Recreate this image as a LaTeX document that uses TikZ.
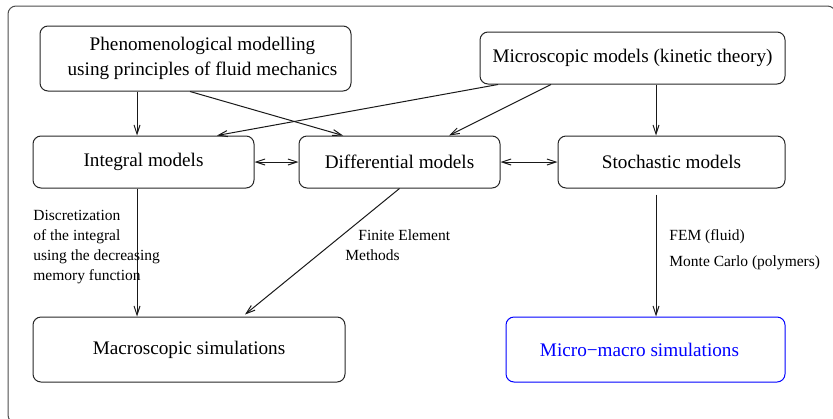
\documentclass[tikz,border=0pt]{standalone}
\usepackage{fontspec}
\setmainfont{Liberation Serif}
\usetikzlibrary{arrows.meta}
\begin{document}
\begin{tikzpicture}[x=0.5pt,y=-0.5pt,
  box/.style={draw=black!85,line width=0.5pt,rounded corners=4pt,inner sep=0pt,align=center,font=\fontsize{9.6}{12.5}\selectfont},
  arr/.style={draw=black!90,line width=0.5pt,-{Straight Barb[length=4.5pt,width=3pt]}},
  dblarr/.style={draw=black!90,line width=0.5pt,{Straight Barb[length=4.5pt,width=3pt]}-{Straight Barb[length=4.5pt,width=3pt]}},
  lbl/.style={inner sep=0pt,font=\fontsize{7.75}{10}\selectfont,align=left}]
\useasboundingbox (0,0) rectangle (833,418);
\begin{scope}
\clip (0,0) rectangle (833,418);
\draw[black!70,line width=0.5pt,rounded corners=4pt] (8,6) rectangle (835.5,423);
\end{scope}
% boxes
\node[box,minimum width=155.5pt,minimum height=32.5pt] (phen) at (195.5,58.5) {\hspace*{7pt}Phenomenological modelling\\\hspace*{7pt}using principles of fluid mechanics};
\node[box,minimum width=152.5pt,minimum height=26pt] (micro) at (632.5,58) {Microscopic models (kinetic theory)};
\node[box,minimum width=110.5pt,minimum height=26pt] (int) at (143.5,162) {Integral models};
\node[box,minimum width=100.5pt,minimum height=26pt] (diff) at (399.5,162) {Differential models};
\node[box,minimum width=113.5pt,minimum height=26pt] (stoch) at (671.5,162) {Stochastic models};
\node[box,minimum width=156pt,minimum height=32.5pt] (macro) at (189,349.5) {Macroscopic simulations};
\node[box,draw=blue,text=blue,minimum width=139.5pt,minimum height=32.5pt] (mm) at (645.5,349.5) {Micro−macro simulations\hspace*{6pt}};
% connectors
\draw[arr] ([xshift=-29.25pt]phen.south) -- ([xshift=-3.25pt]int.north);
\draw[arr] ([xshift=-2.75pt]phen.south) -- ([xshift=-28.25pt]diff.north);
\draw[arr] ([xshift=-67.25pt]micro.south) -- ([xshift=36.75pt]int.north);
\draw[arr] ([xshift=-40.75pt]micro.south) -- ([xshift=24.75pt]diff.north);
\draw[arr] ([xshift=11.75pt]micro.south) -- ([xshift=-7.75pt]stoch.north);
\draw[dblarr] (int.east) -- (diff.west);
\draw[dblarr] (diff.east) -- (stoch.west);
\draw[arr] ([xshift=-3.25pt]int.south) -- ([xshift=-26pt]macro.north);
\draw[arr] (diff.south) -- ([xshift=28pt,yshift=1pt]macro.north);
\draw[arr,shorten <=3pt] ([xshift=-7.75pt]stoch.south) -- ([xshift=5.25pt]mm.north);
% labels
\node[lbl,anchor=base west] (disc) at (33,280) {Discretization\\of the integral\\using the decreasing\\memory function};
\node[lbl,anchor=base west] (fe1) at (358,240) {Finite Element};
\node[lbl,anchor=base west] (fe2) at (345,260) {Methods};
\node[lbl,anchor=base west] (fem) at (669,240) {FEM (fluid)};
\node[lbl,anchor=base west] (mc) at (669,266) {Monte Carlo (polymers)};
\end{tikzpicture}
\end{document}
